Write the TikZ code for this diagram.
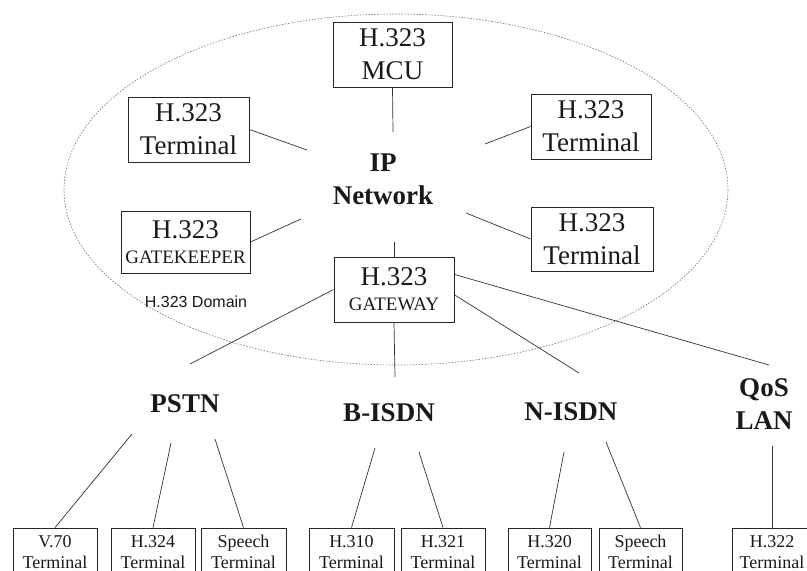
\documentclass[tikz,border=0pt]{standalone}
\usepackage{fontspec}
\setmainfont{Liberation Serif}
\newfontfamily\domainfont{Liberation Sans}
\begin{document}
\begin{tikzpicture}[x=1pt,y=-1pt,
  box/.style={draw=black!85, line width=0.9pt, inner sep=0pt, align=center, text=black!90},
  bigbox/.style={box, font=\fontsize{27}{33}\selectfont},
  smallbox/.style={box, font=\fontsize{18}{21}\selectfont, minimum height=48pt},
  net/.style={font=\bfseries\fontsize{27}{33}\selectfont, align=center, inner sep=0pt, text=black!90},
  link/.style={draw=black!80, line width=0.7pt}]
\useasboundingbox (0,0) rectangle (807,571);
\draw[black!55, line width=0.6pt, dash pattern=on 1.5pt off 1.5pt] (396,189.5) ellipse [x radius=332, y radius=175.5];
% top boxes
\node[bigbox, minimum width=119pt, minimum height=65pt] (mcu) at (392.5,54.5) {H.323\\MCU};
\node[bigbox, minimum width=121pt, minimum height=65pt] (lt) at (188.5,129.5) {H.323\\Terminal};
\node[bigbox, minimum width=120pt, minimum height=65pt] (rt) at (591,126.5) {H.323\\Terminal};
\node[bigbox, minimum width=129pt, minimum height=62pt] (gk) at (185.5,242) {H.323\\[-8pt]{\fontsize{19}{19}\selectfont GATEKEEPER}};
\node[bigbox, minimum width=122pt, minimum height=64pt] (rt2) at (592,239) {H.323\\Terminal};
\node[bigbox, minimum width=120pt, minimum height=65pt] (gw) at (394,289.5) {H.323\\[-8pt]{\fontsize{19}{19}\selectfont GATEWAY}};
\node[net] (ip) at (383,179) {IP\\Network};
\node[font=\domainfont\fontsize{16}{19}\selectfont, inner sep=0pt, text=black!90] (dom) at (196,302) {H.323 Domain};
% network labels
\node[net] (pstn) at (185,404) {PSTN};
\node[net] (bisdn) at (389,413) {B-ISDN};
\node[net] (nisdn) at (571,412) {N-ISDN};
\node[net] (qos) at (764,404) {QoS\\LAN};
% bottom boxes
\node[smallbox, minimum width=84pt] (v70) at (55,552) {V.70\\Terminal};
\node[smallbox, minimum width=84pt] (h324) at (153,552) {H.324\\Terminal};
\node[smallbox, minimum width=85pt] (sp1) at (243.5,552) {Speech\\Terminal};
\node[smallbox, minimum width=85pt] (h310) at (351.5,552) {H.310\\Terminal};
\node[smallbox, minimum width=84pt] (h321) at (443,552) {H.321\\Terminal};
\node[smallbox, minimum width=83pt] (h320) at (549.5,552) {H.320\\Terminal};
\node[smallbox, minimum width=83pt] (sp2) at (640.5,552) {Speech\\Terminal};
\node[smallbox, minimum width=80pt] (h322) at (772,552) {H.322\\Terminal};
% coordinates near IP network
\coordinate (ipN) at (393,132);
\coordinate (ipLT) at (307,150);
\coordinate (ipRT) at (485,144);
\coordinate (ipGK) at (301,219);
\coordinate (ipRT2) at (466,213);
\coordinate (ipS) at (394,242);
% coordinates near network labels
\coordinate (pstnT) at (190,364);
\coordinate (bisdnT) at (395,377);
\coordinate (nisdnT) at (579,373);
\coordinate (qosT) at (769,365);
\coordinate (pstnA) at (132,434);
\coordinate (pstnB) at (171,443);
\coordinate (pstnC) at (215,439);
\coordinate (bisdnA) at (375,448);
\coordinate (bisdnB) at (419,452);
\coordinate (nisdnA) at (564,452);
\coordinate (nisdnB) at (606,442);
\coordinate (qosB) at (772,446);
% links
\draw[link] (mcu.south) -- (ipN);
\draw[link] (lt.east) -- (ipLT);
\draw[link] (rt.west) -- (ipRT);
\draw[link] (gk.east) -- (ipGK);
\draw[link] (rt2.west) -- (ipRT2);
\draw[link] (ipS) -- (gw.north);
\draw[link] (gw.west) -- (pstnT);
\draw[link] (gw.south) -- (bisdnT);
\draw[link] (gw.-5) -- (nisdnT);
\draw[link] (gw.14) -- (qosT);
\draw[link] (pstnA) -- (v70.north);
\draw[link] (pstnB) -- (h324.north);
\draw[link] (pstnC) -- (sp1.north);
\draw[link] (bisdnA) -- (h310.north);
\draw[link] (bisdnB) -- (h321.north);
\draw[link] (nisdnA) -- (h320.north);
\draw[link] (nisdnB) -- (sp2.north);
\draw[link] (qosB) -- (h322.north);
\end{tikzpicture}
\end{document}
